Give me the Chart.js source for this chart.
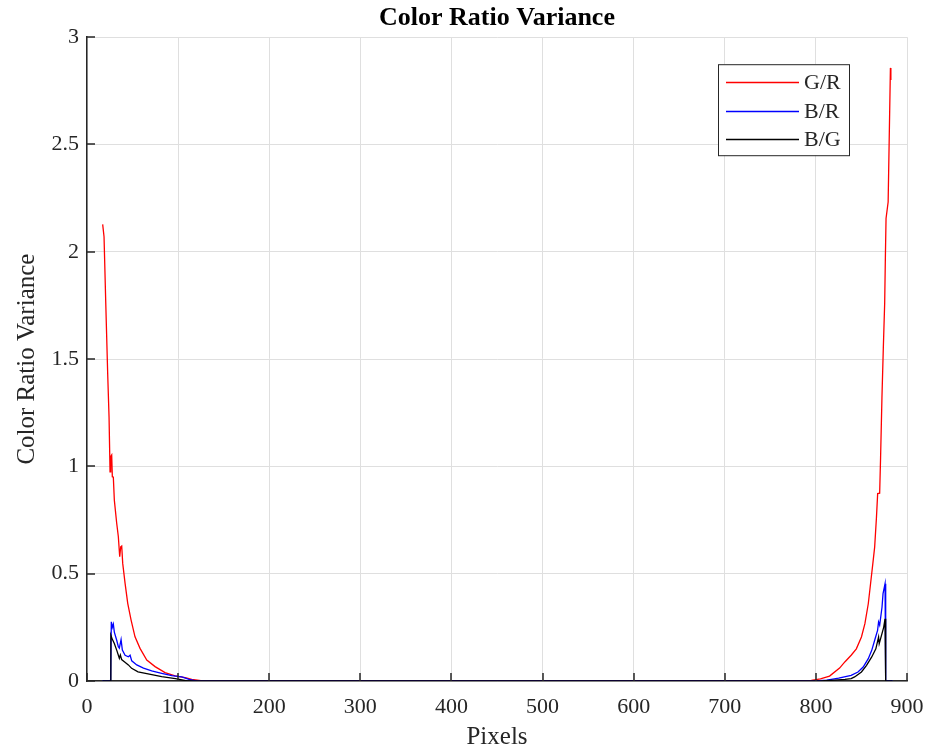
<!DOCTYPE html>
<html>
<head>
<meta charset="utf-8">
<script src="https://cdn.jsdelivr.net/npm/chart.js@4.4.1/dist/chart.umd.min.js"></script>
<style>
  html, body { margin: 0; padding: 0; background: #fff; }
  #wrap { width: 927px; height: 752px; }
</style>
</head>
<body>
<div id="wrap"><canvas id="chart" width="927" height="752"></canvas></div>
<script>
// values
const grX = [17.2, 18.7, 20.5, 22.7, 24.2, 25.3, 26, 27.1, 27.8, 28.9, 30, 32.6, 34.4, 35.9, 37, 38.1, 39.2, 41.8, 44.7, 48.4, 52.7, 58.2, 65.6, 74.7, 85.7, 96.7, 107.7, 115, 125, 140,
  780, 795, 805, 815, 826, 832, 838.7, 844.4, 850, 853.8, 857.5, 860, 862.5, 864.5, 866.5, 867.8, 870, 871, 872.5, 874, 875.5, 876.3, 877, 879.3, 881.8, 882.3];
const grY = [2.128, 2.07, 1.775, 1.433, 1.23, 0.975, 1.045, 1.053, 0.952, 0.95, 0.843, 0.735, 0.672, 0.579, 0.625, 0.629, 0.548, 0.455, 0.362, 0.284, 0.206, 0.152, 0.098, 0.067, 0.039, 0.024, 0.016, 0.008, 0.002, 0,
  0, 0.003, 0.01, 0.023, 0.06, 0.09, 0.12, 0.15, 0.205, 0.267, 0.36, 0.453, 0.547, 0.624, 0.764, 0.873, 0.875, 1.04, 1.32, 1.55, 1.76, 1.984, 2.155, 2.232, 2.857, 2.80];

const brX = [17, 25.9, 26.7, 27.8, 28.9, 30, 32.6, 34.4, 35.5, 37.4, 38.8, 41.8, 45.4, 47.3, 49.1, 54.6, 62, 71, 82, 93, 104, 112, 120,
  800, 812, 825, 838.7, 846.2, 851.9, 857.5, 861.3, 865, 867.7, 868.8, 870, 872.6, 873.7, 875.9, 876.5, 876.7, 884];
const brY = [0, 0, 0.276, 0.25, 0.265, 0.228, 0.19, 0.16, 0.153, 0.193, 0.144, 0.12, 0.113, 0.12, 0.094, 0.075, 0.06, 0.047, 0.036, 0.025, 0.019, 0.008, 0,
  0, 0.004, 0.013, 0.026, 0.042, 0.065, 0.104, 0.143, 0.197, 0.236, 0.275, 0.26, 0.345, 0.407, 0.453, 0.453, 0, 0];

const bgX = [17, 25.9, 26.2, 27.8, 30, 32.6, 35.5, 36.6, 38, 41, 45.4, 49, 56, 67, 82, 97, 110,
  805, 820, 832, 838.7, 842.5, 850, 855.6, 861.3, 865.8, 868.8, 869.5, 874.4, 875.9, 876.5, 876.7, 884];
const bgY = [0, 0, 0.214, 0.194, 0.175, 0.144, 0.106, 0.121, 0.1, 0.09, 0.075, 0.059, 0.043, 0.033, 0.02, 0.011, 0,
  0, 0.004, 0.008, 0.011, 0.019, 0.042, 0.073, 0.112, 0.15, 0.205, 0.174, 0.25, 0.29, 0.29, 0, 0];

const seriesNames = ['G/R', 'B/R', 'B/G'];
const seriesColors = ['#ff0000', '#0000ff', '#000000'];

const FONT = '"Liberation Serif", "Times New Roman", serif';
const TEXT = '#262626';

const toPoints = (xs, ys) => xs.map((x, i) => ({ x, y: ys[i] }));

// MATLAB style ticks pointing into the plot
const inwardTicks = {
  id: 'inwardTicks',
  afterDraw(chart) {
    const { ctx, chartArea, scales } = chart;
    ctx.save();
    ctx.strokeStyle = TEXT;
    ctx.lineWidth = 1.5;
    ctx.beginPath();
    scales.x.ticks.forEach(t => {
      const px = Math.round(scales.x.getPixelForValue(t.value));
      ctx.moveTo(px, chartArea.bottom);
      ctx.lineTo(px, chartArea.bottom - 8);
    });
    scales.y.ticks.forEach(t => {
      const py = Math.round(scales.y.getPixelForValue(t.value));
      ctx.moveTo(chartArea.left, py);
      ctx.lineTo(chartArea.left + 8, py);
    });
    ctx.stroke();
    ctx.restore();
  }
};

// legend box in the upper right of the plot
const boxLegend = {
  id: 'boxLegend',
  afterDraw(chart) {
    const { ctx, chartArea } = chart;
    const right = chartArea.right - 58, top = chartArea.top + 27;
    const w = 131, h = 91, left = right - w;
    ctx.save();
    ctx.fillStyle = '#fff';
    ctx.fillRect(left, top, w, h);
    ctx.strokeStyle = '#262626';
    ctx.lineWidth = 1;
    ctx.strokeRect(left + 0.5, top + 0.5, w, h);
    ctx.font = '22px ' + FONT;
    ctx.textBaseline = 'middle';
    seriesNames.forEach((name, i) => {
      const y = Math.round(top + 18 + i * 28.3) + 0.5;
      ctx.strokeStyle = seriesColors[i];
      ctx.lineWidth = 1.3;
      ctx.beginPath();
      ctx.moveTo(left + 8, y);
      ctx.lineTo(left + 81, y);
      ctx.stroke();
      ctx.fillStyle = TEXT;
      ctx.fillText(name, left + 86, y + 1);
    });
    ctx.restore();
  }
};

const ctx = document.getElementById('chart').getContext('2d');
new Chart(ctx, {
  type: 'line',
  data: {
    datasets: [
      { label: seriesNames[0], data: toPoints(grX, grY), borderColor: seriesColors[0], order: 3 },
      { label: seriesNames[1], data: toPoints(brX, brY), borderColor: seriesColors[1], order: 2 },
      { label: seriesNames[2], data: toPoints(bgX, bgY), borderColor: seriesColors[2], order: 1 }
    ]
  },
  options: {
    responsive: false,
    animation: false,
    parsing: false,
    elements: {
      line: { borderWidth: 1.3, tension: 0, fill: false },
      point: { radius: 0 }
    },
    layout: { padding: { left: 0, right: 20, top: 0, bottom: 0 } },
    plugins: {
      legend: { display: false },
      tooltip: { enabled: false },
      title: {
        display: true,
        fullSize: false,
        text: 'Color Ratio Variance',
        color: '#000',
        font: { family: FONT, size: 26, weight: 'bold' },
        padding: { top: 3, bottom: 3 }
      }
    },
    scales: {
      x: {
        type: 'linear',
        min: 0,
        max: 900,
        afterFit: s => { s.height = 71; s.paddingLeft = 0; s.paddingRight = 0; },
        ticks: { stepSize: 100, color: TEXT, font: { family: FONT, size: 22 }, padding: 13, maxRotation: 0 },
        grid: { color: '#dfdfdf', drawTicks: false },
        border: { color: TEXT, width: 1.5 },
        title: { display: true, text: 'Pixels', color: TEXT, font: { family: FONT, size: 25 }, padding: { top: 0, bottom: 0 } }
      },
      y: {
        type: 'linear',
        min: 0,
        max: 3,
        afterFit: s => { s.width = 87; },
        ticks: { stepSize: 0.5, color: TEXT, font: { family: FONT, size: 22 }, padding: 8, callback: v => String(v) },
        grid: { color: '#dfdfdf', drawTicks: false },
        border: { color: TEXT, width: 1.5 },
        title: { display: true, text: 'Color Ratio Variance', color: TEXT, font: { family: FONT, size: 25 }, padding: { top: 12, bottom: 0 } }
      }
    }
  },
  plugins: [inwardTicks, boxLegend]
});
</script>
</body>
</html>
